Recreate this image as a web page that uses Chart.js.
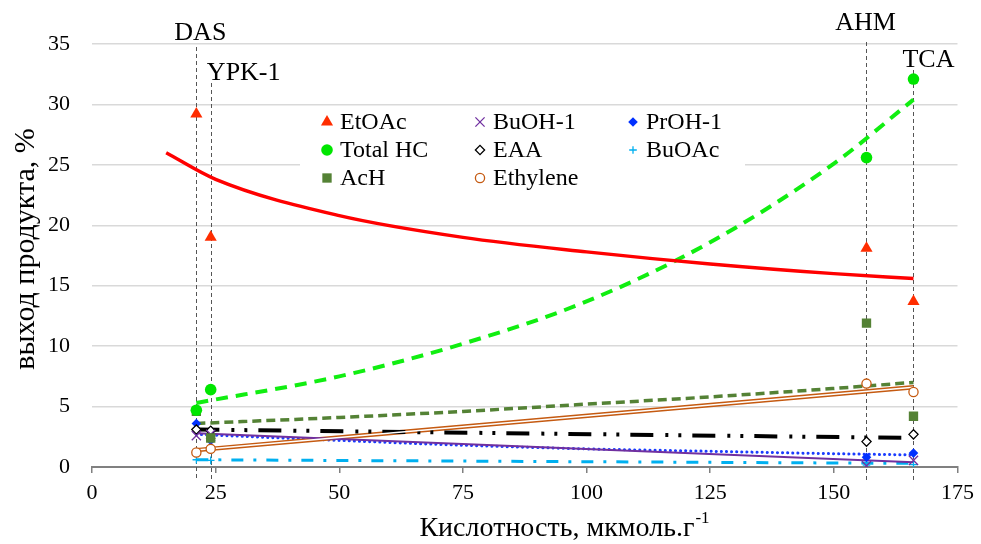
<!DOCTYPE html>
<html lang="ru">
<head>
<meta charset="utf-8">
<title>Выход продуктов и кислотность</title>
<script src="https://cdn.jsdelivr.net/npm/chart.js@4.4.1/dist/chart.umd.min.js"></script>
<style>
  html, body { margin: 0; padding: 0; background: #fff; }
  #wrap { width: 981px; height: 544px; }
</style>
</head>
<body>
<div id="wrap"><canvas id="chart" width="981" height="544"></canvas></div>
<script>
// Катализаторы и их кислотность, мкмоль/г
const catalysts = ['DAS', 'YPK-1', 'AHM', 'TCA'];
const acidity = [21.1, 24.0, 156.6, 166.1];

// Выход продуктов, %
const etoac = [29.2, 19.0, 18.1, 13.7];
const totalHC = [4.7, 6.4, 25.6, 32.1];
const ach = [4.6, 2.4, 11.9, 4.2];
const buoh1 = [2.6, 2.7, 0.1, 0.55];
const eaa = [3.1, 3.0, 2.1, 2.7];
const ethylene = [1.2, 1.5, 6.9, 6.2];
const proh1 = [3.6, 2.2, 0.8, 1.15];
const buoac = [0.6, 0.55, 0.15, 0.2];

// Линии тренда
const etoacTrendX = [15, 25, 50, 75, 100, 125, 150, 166.1];
const etoacTrend = [26.0, 23.8, 20.8, 19.0, 17.8, 16.8, 16.0, 15.6];
const curveTrendX = [21.1, 50, 75, 100, 125, 150, 166.1];
const totalHCTrend = [5.3, 7.5, 10.2, 13.7, 18.6, 25.1, 30.4];
const achTrend = [3.6, 4.1, 4.6, 5.2, 5.8, 6.5, 7.0];
const proh1Trend = [2.7, 2.2, 1.8, 1.5, 1.3, 1.1, 1.0];
const lineTrendX = [21.1, 166.1];
const buoh1Trend = [2.8, 0.4];
const eaaTrend = [3.1, 2.4];
const ethyleneTrend = [1.4, 6.6];
const buoacTrend = [0.6, 0.3];

const FONT = "'Liberation Serif', 'Times New Roman', serif";

// порядок = порядок в легенде (по столбцам)
const series = [
  { name: 'EtOAc', values: etoac, style: 'triangle', r: 7, bg: '#ff2d00', border: '#ff2d00', bw: 0,
    trendX: etoacTrendX, trend: etoacTrend, line: { color: '#ff0000', width: 3.5, dash: [] } },
  { name: 'Total HC', values: totalHC, style: 'circle', r: 5.8, bg: '#00e600', border: '#00e600', bw: 0,
    trendX: curveTrendX, trend: totalHCTrend, line: { color: '#11ee11', width: 4, dash: [12, 8] } },
  { name: 'AcH', values: ach, style: 'rect', r: 6.6, bg: '#548235', border: '#548235', bw: 0,
    trendX: curveTrendX, trend: achTrend, line: { color: '#548235', width: 3.5, dash: [9, 5] } },
  { name: 'BuOH-1', values: buoh1, style: 'crossRot', r: 6.5, bg: '#7030a0', border: '#7030a0', bw: 1.3,
    trendX: lineTrendX, trend: buoh1Trend, line: { color: '#7030a0', width: 2, dash: [] } },
  { name: 'EAA', values: eaa, style: 'rectRot', r: 4.6, bg: '#ffffff', border: '#000000', bw: 1.3,
    trendX: lineTrendX, trend: eaaTrend, line: { color: '#000000', width: 4, dash: [23, 12, 3, 10, 3, 11] } },
  { name: 'Ethylene', values: ethylene, style: 'circle', r: 4.6, bg: '#ffffff', border: '#c55a11', bw: 1.3,
    trendX: lineTrendX, trend: ethyleneTrend, line: { color: '#c55a11', width: 4.4, dash: [], double: true } },
  { name: 'PrOH-1', values: proh1, style: 'rectRot', r: 4.8, bg: '#0030ff', border: '#0030ff', bw: 0,
    trendX: curveTrendX, trend: proh1Trend, line: { color: '#1a3cff', width: 3, dash: [0.1, 5], cap: 'round' } },
  { name: 'BuOAc', values: buoac, style: 'cross', r: 3.8, bg: '#00b0f0', border: '#00b0f0', bw: 1.3,
    trendX: lineTrendX, trend: buoacTrend, line: { color: '#00b0f0', width: 3, dash: [12, 10, 3, 10] } }
];

// Подписи катализаторов над вертикальными линиями (смещения в px)
const catalystLabelStyle = [
  { dx: 4, y: 33, top: 47 },
  { dx: 33, y: 73, top: 83 },
  { dx: -1, y: 23, top: 42 },
  { dx: 15, y: 60, top: 70 }
];

const datasets = [];

// линии тренда
series.forEach((s) => {
  const pts = s.trendX.map((x, i) => ({ x, y: s.trend[i] }));
  datasets.push({
    label: s.name + ' trend',
    data: pts,
    showLine: true,
    borderColor: s.line.color,
    borderWidth: s.line.width,
    borderDash: s.line.dash,
    borderCapStyle: s.line.cap || 'butt',
    cubicInterpolationMode: 'monotone',
    pointRadius: 0,
    pointHitRadius: 0,
    order: 2
  });
  if (s.line.double) {
    datasets.push({
      label: s.name + ' trend inner',
      data: pts,
      showLine: true,
      borderColor: '#ffffff',
      borderWidth: 1.5,
      pointRadius: 0,
      pointHitRadius: 0,
      order: 1
    });
  }
});

// точки
series.forEach((s) => {
  datasets.push({
    label: s.name,
    data: acidity.map((x, i) => ({ x, y: s.values[i] })),
    showLine: false,
    pointStyle: s.style,
    pointRadius: s.r,
    pointBackgroundColor: s.bg,
    pointBorderColor: s.border,
    pointBorderWidth: s.bw,
    order: 0
  });
});

const decor = {
  id: 'decor',
  beforeDatasetsDraw(chart) {
    const { ctx, scales: { x } } = chart;
    ctx.save();
    ctx.strokeStyle = '#555555';
    ctx.lineWidth = 1;
    ctx.setLineDash([4, 3]);
    acidity.forEach((a, i) => {
      const px = Math.round(x.getPixelForValue(a)) + 0.5;
      ctx.beginPath();
      ctx.moveTo(px, catalystLabelStyle[i].top);
      ctx.lineTo(px, 481);
      ctx.stroke();
    });
    ctx.restore();
  },
  afterDraw(chart) {
    const { ctx, scales: { x } } = chart;
    ctx.save();

    // подписи катализаторов
    ctx.fillStyle = '#000';
    ctx.font = '26px ' + FONT;
    ctx.textAlign = 'center';
    ctx.textBaseline = 'middle';
    catalysts.forEach((name, i) => {
      const st = catalystLabelStyle[i];
      const px = x.getPixelForValue(acidity[i]);
      ctx.fillText(name, px + st.dx, st.y);
    });

    // легенда
    ctx.fillStyle = '#fff';
    ctx.fillRect(300, 108, 445, 84);
    ctx.font = '24px ' + FONT;
    ctx.textAlign = 'left';
    const colX = [327, 480, 633];
    const rowY = [122, 150, 178];
    series.forEach((s, i) => {
      const cx = colX[Math.floor(i / 3)];
      const cy = rowY[i % 3];
      ctx.fillStyle = s.bg;
      ctx.strokeStyle = s.border;
      ctx.lineWidth = s.bw;
      ctx.setLineDash([]);
      Chart.helpers.drawPoint(ctx, { pointStyle: s.style, radius: s.r, borderWidth: s.bw, rotation: 0 }, cx, cy);
      ctx.fillStyle = '#000';
      ctx.fillText(s.name, cx + 13, cy + 1);
    });

    // подпись оси Y
    ctx.save();
    ctx.translate(26, 249);
    ctx.rotate(-Math.PI / 2);
    ctx.font = '30px ' + FONT;
    ctx.textAlign = 'center';
    ctx.fillStyle = '#000';
    ctx.fillText('выход продукта, %', 0, 0);
    ctx.restore();

    // подпись оси X с надстрочным индексом
    const main = 'Кислотность, мкмоль.г';
    const sup = '-1';
    ctx.font = '28px ' + FONT;
    const wMain = ctx.measureText(main).width;
    ctx.font = '17px ' + FONT;
    const wSup = ctx.measureText(sup).width;
    const startX = 564 - (wMain + wSup) / 2;
    ctx.textAlign = 'left';
    ctx.textBaseline = 'alphabetic';
    ctx.fillStyle = '#000';
    ctx.font = '28px ' + FONT;
    ctx.fillText(main, startX, 536);
    ctx.font = '17px ' + FONT;
    ctx.fillText(sup, startX + wMain + 1, 523);

    ctx.restore();
  }
};

new Chart(document.getElementById('chart'), {
  type: 'scatter',
  data: { datasets },
  options: {
    responsive: false,
    animation: false,
    layout: { padding: { top: 44, right: 20, left: 0, bottom: 0 } },
    plugins: {
      legend: { display: false },
      tooltip: { enabled: false }
    },
    scales: {
      x: {
        type: 'linear',
        min: 0,
        max: 175,
        afterFit: (s) => { s.height = 77; },
        ticks: {
          stepSize: 25,
          padding: 7,
          color: '#000',
          font: { family: FONT, size: 22 }
        },
        grid: { drawOnChartArea: false, drawTicks: true, tickLength: 6, color: '#808080', lineWidth: 1.5 },
        border: { color: '#808080', width: 2 }
      },
      y: {
        min: 0,
        max: 35,
        afterFit: (s) => { s.width = 92; },
        ticks: {
          stepSize: 5,
          padding: 22,
          color: '#000',
          font: { family: FONT, size: 22 }
        },
        grid: { color: '#d9d9d9', lineWidth: 1.5, drawTicks: false },
        border: { display: false }
      }
    }
  },
  plugins: [decor]
});
</script>
</body>
</html>
